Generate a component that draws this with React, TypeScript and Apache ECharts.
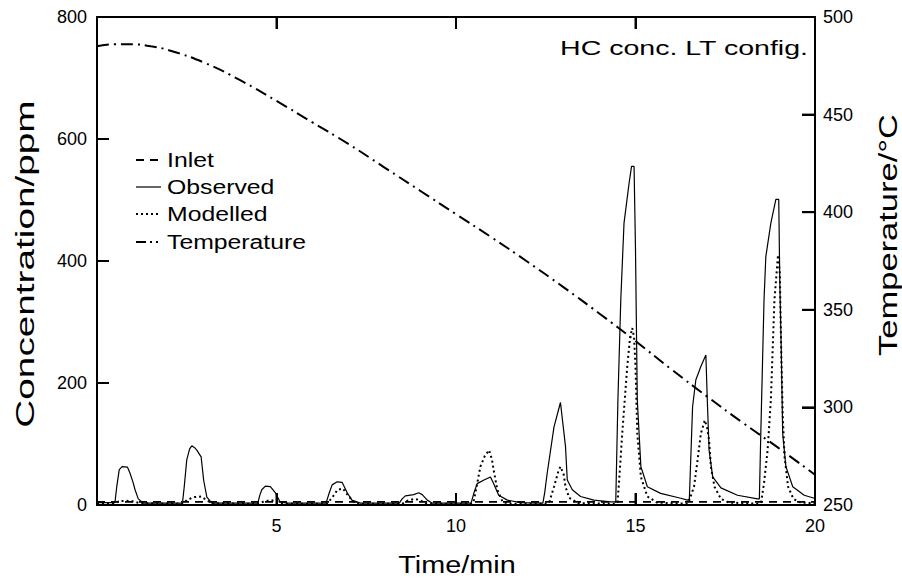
import React, { useEffect, useRef } from "react";
import * as echarts from "echarts";

// ---- data ----
const obsTime = [0, 0.5, 0.55, 0.62, 0.7, 0.85, 0.92, 1.0, 1.06, 1.15, 1.29, 2.38, 2.43, 2.5, 2.58, 2.64, 2.72, 2.78, 2.9, 2.97, 3.06, 3.2, 4.48, 4.53, 4.59, 4.69, 4.83, 4.97, 5.1, 5.3, 6.38, 6.47, 6.55, 6.69, 6.83, 6.97, 7.1, 7.34, 8.42, 8.5, 8.59, 8.82, 8.96, 9.06, 9.2, 9.34, 10.42, 10.5, 10.59, 10.78, 10.96, 11.05, 11.19, 11.43, 11.8, 12.42, 12.47, 12.54, 12.73, 12.91, 13.05, 13.1, 13.24, 13.47, 13.84, 14.3, 14.45, 14.51, 14.59, 14.68, 14.82, 14.89, 14.96, 15.0, 15.05, 15.15, 15.33, 15.7, 16.26, 16.45, 16.5, 16.59, 16.68, 16.82, 16.96, 17.0, 17.05, 17.15, 17.38, 17.84, 18.4, 18.45, 18.49, 18.58, 18.63, 18.77, 18.91, 18.99, 19.02, 19.06, 19.1, 19.19, 19.38, 19.7, 19.98];
const obsConc = [4, 4, 30, 58, 63, 62, 52, 38, 25, 10, 3, 3, 30, 74, 92, 97, 94, 90, 79, 41, 13, 3, 3, 15, 25, 31, 30, 20, 5, 3, 3, 20, 33, 38, 37, 20, 8, 3, 3, 10, 15, 17, 20, 17, 8, 3, 3, 20, 35, 41, 46, 35, 16, 8, 4, 3, 20, 52, 128, 168, 96, 41, 25, 14, 8, 5, 5, 172, 336, 462, 527, 555, 555, 418, 172, 63, 30, 19, 11, 8, 10, 161, 205, 227, 246, 172, 90, 46, 28, 16, 10, 10, 117, 336, 407, 462, 501, 501, 364, 254, 117, 63, 30, 16, 11];

const modTime = [0, 0.5, 0.6, 0.8, 1.0, 1.2, 2.4, 2.5, 2.7, 2.9, 3.05, 3.2, 4.5, 4.65, 4.85, 5.0, 5.2, 6.4, 6.55, 6.7, 6.85, 7.0, 7.15, 7.3, 8.5, 8.65, 8.85, 9.0, 9.15, 9.3, 10.45, 10.5, 10.59, 10.68, 10.8, 10.92, 11.0, 11.05, 11.15, 11.3, 11.5, 12.5, 12.6, 12.73, 12.85, 12.91, 13.0, 13.05, 13.15, 13.4, 14.45, 14.5, 14.54, 14.63, 14.77, 14.85, 14.91, 14.96, 15.0, 15.05, 15.15, 15.33, 15.6, 16.45, 16.5, 16.63, 16.73, 16.82, 16.93, 17.0, 17.05, 17.1, 17.2, 17.38, 17.6, 18.45, 18.5, 18.58, 18.68, 18.77, 18.87, 18.97, 19.02, 19.06, 19.1, 19.15, 19.25, 19.4, 19.6, 20];
const modConc = [2, 3, 6, 7, 6, 3, 2, 8, 13, 14, 8, 3, 2, 6, 8, 6, 2, 2, 12, 25, 27, 15, 5, 2, 2, 7, 10, 8, 3, 2, 2, 8, 35, 63, 80, 90, 75, 57, 25, 5, 2, 2, 5, 30, 55, 63, 50, 30, 12, 3, 2, 5, 36, 117, 227, 275, 290, 275, 227, 117, 46, 14, 4, 2, 8, 30, 74, 117, 139, 125, 106, 63, 30, 10, 4, 2, 5, 36, 90, 172, 336, 410, 380, 250, 150, 80, 30, 10, 4, 3];

const inletTime = [0, 1, 2, 3, 4, 5, 6, 7, 8, 9, 10, 11, 12, 13, 14, 15, 16, 17, 18, 19, 20];
const inletConc = [5, 5, 5, 5, 5, 5, 5, 5, 5, 5, 5, 5, 5, 5, 5, 5, 5, 5, 5, 5, 5];

const tempTime = [0, 0.5, 1, 1.5, 2, 3, 4, 5, 6, 7, 8, 9, 10, 11, 12, 13, 14, 15, 16, 17, 18, 19, 20];
const tempVal = [485, 486, 486, 485, 483, 476.5, 467.5, 457, 446, 435, 423, 411, 399, 387, 374.5, 361.5, 348, 334, 319.5, 305.5, 292, 279, 265.5];

// inner tick positions
const xTicks = [5, 10, 15];
const yLeftTicks = [200, 400, 600];
const yRightTicks = [300, 350, 400, 450];

const legendLabels = ["Inlet", "Observed", "Modelled", "Temperature"];
const titleText = "HC conc. LT config.";
const xName = "Time/min";
const yLeftName = "Concentration/ppm";
const yRightName = "Temperature/°C";

const FONT = "'Liberation Sans', Arial, Helvetica, sans-serif";

const pairs = (xs: number[], ys: number[]) => xs.map((x, i) => [x, ys[i]]);

const dashInlet = [8, 6];
const dashMod = [2, 3];
const dashTemp = [12, 5, 2, 5];

export default function App() {
  const ref = useRef<HTMLDivElement>(null);
  useEffect(() => {
    document.body.style.margin = "0";
    if (!ref.current) return;
    const chart = echarts.init(ref.current, null, { renderer: "svg" });
    const labelStyle = { fontSize: 18, color: "#000", fontFamily: FONT };
    const tickStyle = { color: "#000", width: 2 };
    const legendStyles = [
      { lineDash: dashInlet, lineWidth: 1.8 },
      { lineDash: null, lineWidth: 1.2 },
      { lineDash: dashMod, lineWidth: 2 },
      { lineDash: [10, 4, 2, 4, 2, 4], lineWidth: 2 },
    ];
    const legendY = [160, 187, 214, 242];
    const legendGraphics: any[] = [];
    legendLabels.forEach((lab, i) => {
      legendGraphics.push({
        type: "line",
        shape: { x1: 136, y1: legendY[i], x2: 161, y2: legendY[i] },
        style: { stroke: "#000", lineWidth: legendStyles[i].lineWidth, lineDash: legendStyles[i].lineDash as any },
        silent: true,
      });
      legendGraphics.push({
        type: "text",
        x: 167,
        y: legendY[i],
        scaleX: 1.18,
        style: { text: lab, fill: "#000", font: `21px ${FONT}`, textAlign: "left", textVerticalAlign: "middle" },
        silent: true,
      });
    });

    const textGraphics: any[] = [
      {
        type: "text", x: 808, y: 47, scaleX: 1.36,
        style: { text: titleText, fill: "#000", font: `21px ${FONT}`, textAlign: "right", textVerticalAlign: "middle" },
        silent: true,
      },
      {
        type: "text", x: 457, y: 565, scaleX: 1.2,
        style: { text: xName, fill: "#000", font: `24px ${FONT}`, textAlign: "center", textVerticalAlign: "middle" },
        silent: true,
      },
      {
        type: "text", x: 25, y: 264, rotation: Math.PI / 2, scaleX: 1.55,
        style: { text: yLeftName, fill: "#000", font: `25px ${FONT}`, textAlign: "center", textVerticalAlign: "middle" },
        silent: true,
      },
      {
        type: "text", x: 888, y: 235, rotation: Math.PI / 2, scaleX: 1.38,
        style: { text: yRightName, fill: "#000", font: `25px ${FONT}`, textAlign: "center", textVerticalAlign: "middle" },
        silent: true,
      },
    ];

    chart.setOption({
      animation: false,
      grid: { left: 97, right: 87, top: 17, bottom: 74, containLabel: false },
      xAxis: [
        {
          type: "value", min: 0, max: 20, interval: 5, position: "bottom",
          axisLine: { show: true, onZero: false, lineStyle: { color: "#000", width: 2 } },
          axisTick: { show: true, inside: true, length: 12, lineStyle: tickStyle },
          axisLabel: { ...labelStyle, margin: 12, formatter: (v: number) => (v === 0 ? "" : String(v)) },
          splitLine: { show: false },
        },
        {
          type: "value", min: 0, max: 20, interval: 5, position: "top",
          axisLine: { show: true, onZero: false, lineStyle: { color: "#000", width: 2 } },
          axisTick: { show: true, inside: true, length: 12, lineStyle: tickStyle },
          axisLabel: { show: false },
          splitLine: { show: false },
        },
      ],
      yAxis: [
        {
          type: "value", min: 0, max: 800, interval: 200, position: "left",
          axisLine: { show: true, onZero: false, lineStyle: { color: "#000", width: 2 } },
          axisTick: { show: true, inside: true, length: 12, lineStyle: tickStyle },
          axisLabel: { ...labelStyle, margin: 10 },
          splitLine: { show: false },
        },
        {
          type: "value", min: 250, max: 500, interval: 50, position: "right",
          axisLine: { show: true, onZero: false, lineStyle: { color: "#000", width: 2 } },
          axisTick: { show: true, inside: true, length: 13, lineStyle: tickStyle },
          axisLabel: { ...labelStyle, margin: 8 },
          splitLine: { show: false },
        },
      ],
      series: [
        {
          name: "Inlet", type: "line", xAxisIndex: 0, yAxisIndex: 0, showSymbol: false, symbol: "none",
          data: pairs(inletTime, inletConc),
          lineStyle: { color: "#000", width: 1.8, type: dashInlet },
          z: 3,
        },
        {
          name: "Observed", type: "line", xAxisIndex: 0, yAxisIndex: 0, showSymbol: false, symbol: "none",
          data: pairs(obsTime, obsConc),
          lineStyle: { color: "#000", width: 1.2, type: "solid" },
          z: 4,
        },
        {
          name: "Modelled", type: "line", xAxisIndex: 0, yAxisIndex: 0, showSymbol: false, symbol: "none",
          data: pairs(modTime, modConc),
          lineStyle: { color: "#000", width: 2, type: dashMod },
          z: 4,
        },
        {
          name: "Temperature", type: "line", xAxisIndex: 0, yAxisIndex: 1, showSymbol: false, symbol: "none",
          smooth: true,
          data: pairs(tempTime, tempVal),
          lineStyle: { color: "#000", width: 2, type: dashTemp },
          z: 4,
        },
      ],
    });

    // inner ticks as small filled rects, positioned through the axes' own scales
    const toPx = (yIdx: number, v: number[]) =>
      chart.convertToPixel({ xAxisIndex: 0, yAxisIndex: yIdx } as any, v) as number[];
    const tickRect = (x: number, y: number, w: number, h: number) => ({
      type: "rect",
      z: 50,
      shape: { x, y, width: w, height: h },
      style: { fill: "#000" },
      silent: true,
    });
    const tickGraphics: any[] = [];
    xTicks.forEach((t) => {
      const b = toPx(0, [t, 0]);
      const tp = toPx(0, [t, 800]);
      tickGraphics.push(tickRect(b[0] - 1, b[1] - 12, 2, 12));
      tickGraphics.push(tickRect(tp[0] - 1, tp[1], 2, 12));
    });
    yLeftTicks.forEach((v) => {
      const p = toPx(0, [0, v]);
      tickGraphics.push(tickRect(p[0], p[1] - 1, 12, 2));
    });
    yRightTicks.forEach((v) => {
      const p = toPx(1, [20, v]);
      tickGraphics.push(tickRect(p[0] - 13, p[1] - 1, 13, 2));
    });

    chart.setOption({ graphic: [...tickGraphics, ...legendGraphics, ...textGraphics] });
    return () => chart.dispose();
  }, []);
  return <div ref={ref} style={{ width: 902, height: 579 }} />;
}
